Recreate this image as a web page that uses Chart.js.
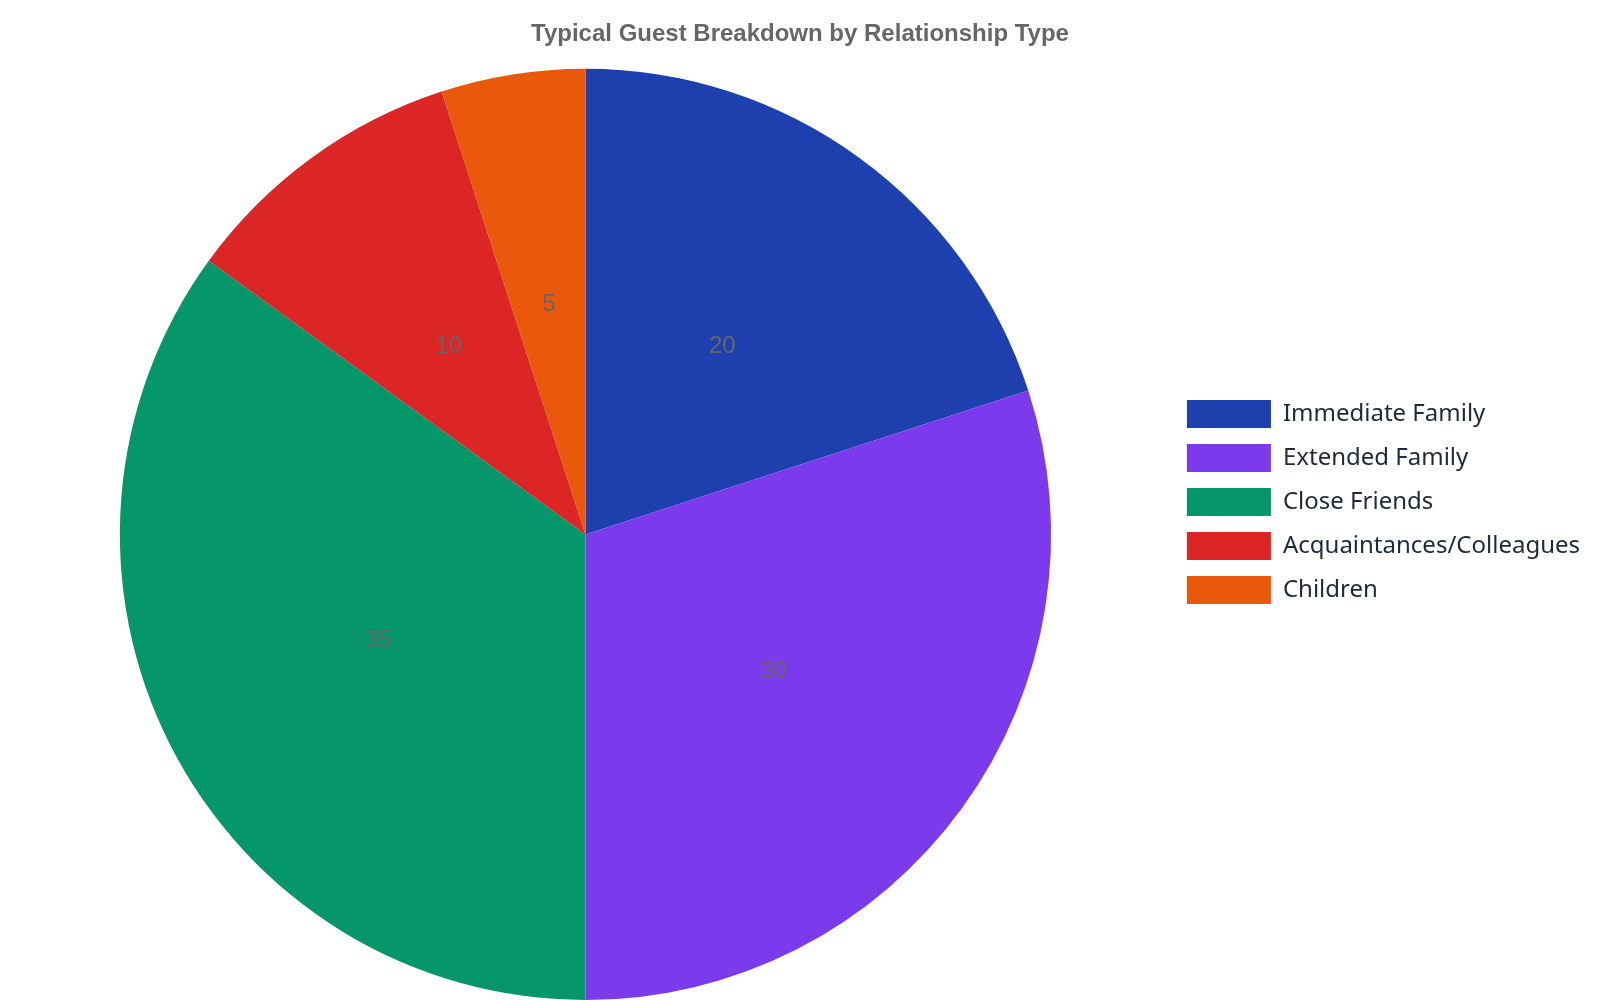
<!DOCTYPE html>
<html>
<head>
<meta charset="utf-8">
<script src="https://cdn.jsdelivr.net/npm/chart.js@4/dist/chart.umd.min.js"></script>
<style>
  html, body { margin: 0; padding: 0; background: #fff; }
  #wrap { width: 1600px; height: 1000px; }
</style>
</head>
<body>
<div id="wrap"><canvas id="myChart"></canvas></div>
<script>
// guest groups and their share
var groups = ["Immediate Family", "Extended Family", "Close Friends", "Acquaintances/Colleagues", "Children"];
var guests = [20, 30, 35, 10, 5];
var sliceColors = ["#1E40AF", "#7C3AED", "#059669", "#DC2626", "#EA580C"];

// write each value in the middle of its slice
var valueLabels = {
  id: "valueLabels",
  afterDatasetsDraw: function (chart) {
    var ctx = chart.ctx;
    var meta = chart.getDatasetMeta(0);
    ctx.save();
    ctx.font = "24px 'Liberation Sans', Arial, sans-serif";
    ctx.fillStyle = "#666666";
    ctx.textAlign = "center";
    ctx.textBaseline = "middle";
    meta.data.forEach(function (arc, i) {
      var p = arc.tooltipPosition();
      ctx.fillText(chart.data.datasets[0].data[i], p.x, p.y);
    });
    ctx.restore();
  }
};

// a bit of room to the right of the legend
var legendRoom = {
  id: "legendRoom",
  beforeInit: function (chart) {
    if (!chart.legend) return;
    var fit = chart.legend.fit;
    chart.legend.fit = function () {
      fit.call(this);
      this.width += 10;
    };
  }
};

new Chart("myChart", {
  type: "pie",
  data: {
    labels: groups,
    datasets: [{
      data: guests,
      backgroundColor: sliceColors,
      borderWidth: 0
    }]
  },
  options: {
    responsive: true,
    maintainAspectRatio: false,
    animation: false,
    layout: { padding: { top: 20, left: 0, right: 0, bottom: 0 } },
    plugins: {
      title: {
        display: true,
        text: "Typical Guest Breakdown by Relationship Type",
        color: "#666666",
        font: { family: "'Liberation Sans', Arial, sans-serif", size: 24, weight: "bold" },
        padding: { top: 0, bottom: 20 }
      },
      legend: {
        position: "right",
        // empty title with negative height, lifts the list a little
        title: { display: true, text: "", font: { size: 10 }, padding: { top: -28, bottom: 0 } },
        labels: {
          boxWidth: 84,
          boxHeight: 28,
          padding: 16,
          color: "#1f2937",
          font: { family: "'Noto Sans', sans-serif", size: 24 }
        }
      },
      tooltip: { enabled: false }
    }
  },
  plugins: [valueLabels, legendRoom]
});
</script>
</body>
</html>
